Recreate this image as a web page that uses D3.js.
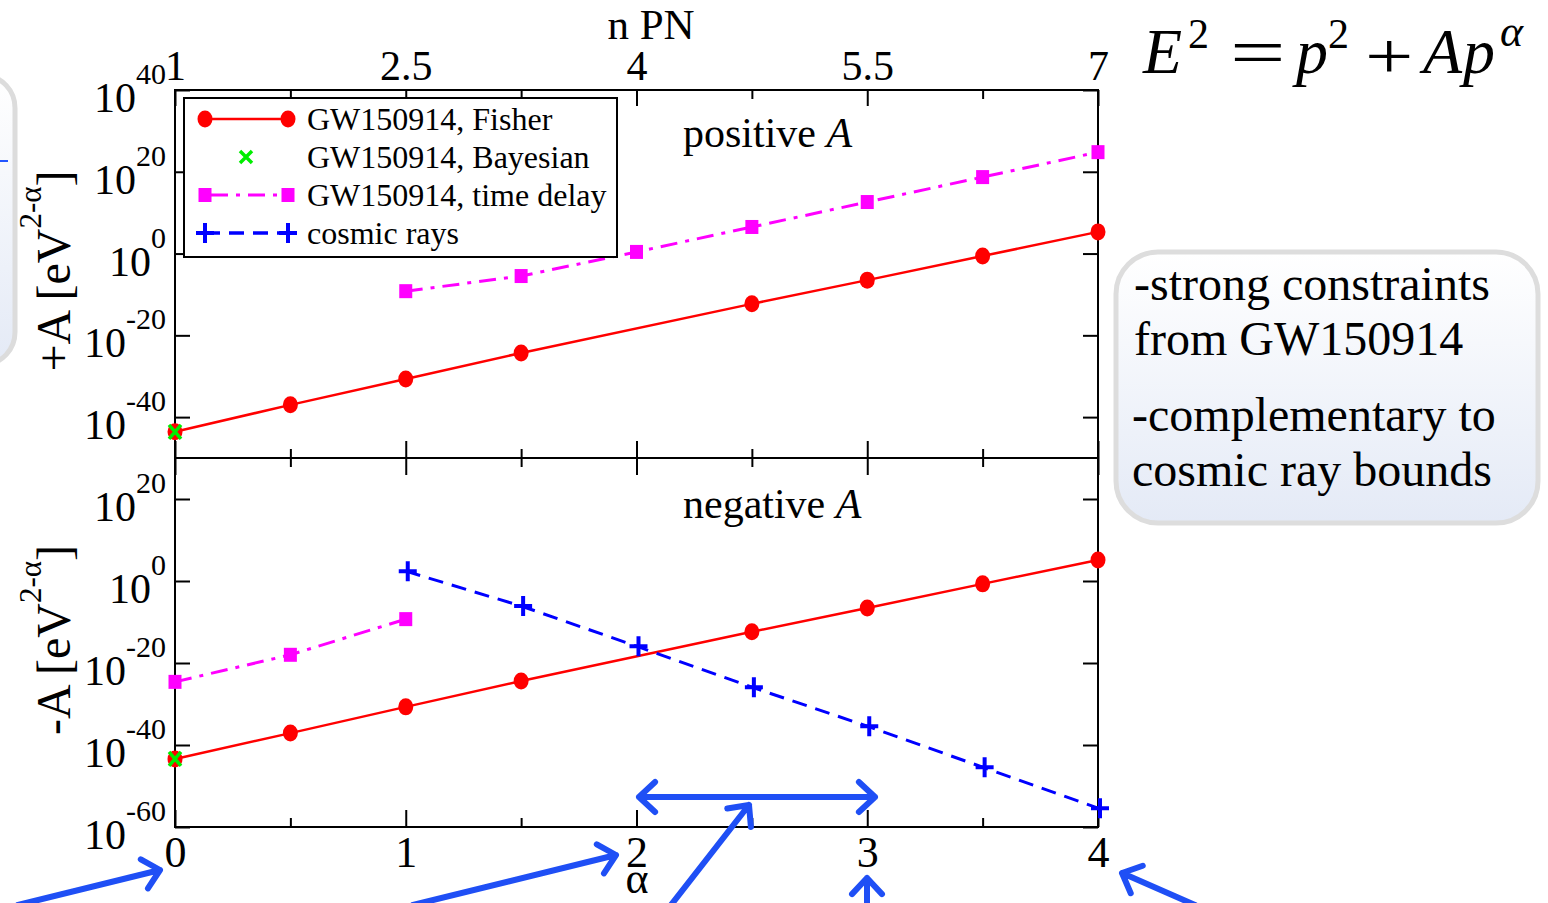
<!DOCTYPE html>
<html>
<head>
<meta charset="utf-8">
<script src="https://cdn.jsdelivr.net/npm/d3@7"></script>
<style>
  body { margin: 0; background: #fff; }
  text { font-family: "Liberation Serif", "DejaVu Serif", serif; fill: #000; }
</style>
</head>
<body>
<svg id="chart" width="1548" height="903"></svg>
<script>
// ---- data (log10 of |A| in eV^(2-alpha)) ----
const fisherAlpha = [0, 0.5, 1, 1.5, 2.5, 3, 3.5, 4];
const fisherPos = [-43.6, -37.0, -30.7, -24.3, -12.3, -6.5, -0.6, 5.3];
const fisherNeg = [-43.4, -37.1, -30.7, -24.4, -12.4, -6.6, -0.7, 5.1];
const bayesAlpha = [0];
const bayesPos = [-43.6];
const bayesNeg = [-43.4];
const delayPosAlpha = [1, 1.5, 2, 2.5, 3, 3.5, 4];
const delayPos = [-9.2, -5.5, 0.4, 6.5, 12.6, 18.7, 24.8];
const delayNegAlpha = [0, 0.5, 1];
const delayNeg = [-24.6, -18.0, -9.3];
const cosmicAlpha = [1, 1.5, 2, 2.5, 3, 3.5, 4];
const cosmicNeg = [2.4, -6.1, -15.9, -25.9, -35.4, -45.4, -55.4];

const alphaTicks = [0, 1, 2, 3, 4];
const alphaMinor = [0.5, 1.5, 2.5, 3.5];
const pnTicks = [1, 2.5, 4, 5.5, 7];
const pnMinor = [1.75, 3.25, 4.75, 6.25];
const yTicksPos = [-40, -20, 0, 20, 40];
const yTicksNeg = [-60, -40, -20, 0, 20];

const legendItems = ['GW150914, Fisher', 'GW150914, Bayesian', 'GW150914, time delay', 'cosmic rays'];
const noteLines = ['-strong constraints', 'from GW150914', '-complementary to', 'cosmic ray bounds'];

const RED = '#ff0000', MAG = '#ff00ff', GRN = '#00ee00', BLU = '#0000ff', ARROW = '#1f4ff5';

const svg = d3.select('#chart');

// scales
const plotL = 175, plotR = 1098, plotT = 90, plotM = 458, plotB = 827;
const x = d3.scaleLinear().domain([0, 4]).range([plotL, plotR]);
const xPN = d3.scaleLinear().domain([1, 7]).range([plotL, plotR]);
const yPos = d3.scaleLog().domain([1e-50, 1e40]).range([plotM, plotT]);
const yNeg = d3.scaleLog().domain([1e-60, 1e30]).range([plotB, plotM]);

// ---- slide decorations ----
const defs = svg.append('defs');
const grad = defs.append('linearGradient').attr('id', 'boxgrad')
  .attr('x1', 0).attr('y1', 0).attr('x2', 0).attr('y2', 1);
grad.append('stop').attr('offset', '0%').attr('stop-color', '#ffffff');
grad.append('stop').attr('offset', '100%').attr('stop-color', '#e4eaf6');

svg.append('rect').attr('x', -45).attr('y', 76).attr('width', 60).attr('height', 288)
  .attr('rx', 32).attr('fill', 'url(#boxgrad)').attr('stroke', '#dcdcdc').attr('stroke-width', 5);
svg.append('line').attr('x1', 0).attr('x2', 8).attr('y1', 161).attr('y2', 161)
  .attr('stroke', '#2255ff').attr('stroke-width', 2);

svg.append('rect').attr('x', 1116).attr('y', 252).attr('width', 422).attr('height', 271)
  .attr('rx', 42).attr('fill', 'url(#boxgrad)').attr('stroke', '#dddddd').attr('stroke-width', 5);
const noteY = [300, 355, 431, 486];
svg.selectAll('.note').data(noteLines).join('text')
  .attr('class', 'note')
  .attr('x', (d, i) => i < 2 ? 1134 : 1132)
  .attr('y', (d, i) => noteY[i])
  .attr('font-size', 48)
  .text(d => d);

// equation E^2 = p^2 + A p^alpha
const eq = svg.append('g');
function eqText(xp, yp, s, size, italic, sx) {
  eq.append('text').attr('transform', `translate(${xp},${yp}) scale(${sx || 1},1)`)
    .attr('font-size', size)
    .attr('font-style', italic ? 'italic' : 'normal').text(s);
}
eqText(1143, 73, 'E', 64, true);
eqText(1188, 48, '2', 42, false);
eqText(1230, 75, '=', 68, false, 1.45);
eqText(1296, 73, 'p', 64, true);
eqText(1328, 48, '2', 42, false);
eqText(1365, 78, '+', 66, false, 1.3);
eqText(1423, 73, 'A', 64, true);
eqText(1463, 73, 'p', 64, true);
eqText(1500, 46, 'α', 44, true);

// ---- axes ----
function styleAxis(g, size) {
  g.select('.domain').remove();
  g.selectAll('line').attr('stroke', '#000').attr('stroke-width', 2);
  g.attr('font-family', null).attr('font-size', size);
}

// top panel, top axis (n PN)
svg.append('g').attr('transform', `translate(0,${plotT})`)
  .call(d3.axisTop(xPN).tickValues(pnTicks).tickSize(-16).tickPadding(10).tickFormat(d => d))
  .call(g => styleAxis(g, 42));
svg.append('g').attr('transform', `translate(0,${plotT})`)
  .call(d3.axisTop(xPN).tickValues(pnMinor).tickSize(-9).tickFormat(''))
  .call(g => styleAxis(g, 10));
// middle line: both directions
svg.append('g').attr('transform', `translate(0,${plotM})`)
  .call(d3.axisBottom(x).tickValues(alphaTicks).tickSize(-17).tickFormat(''))
  .call(g => styleAxis(g, 10));
svg.append('g').attr('transform', `translate(0,${plotM})`)
  .call(d3.axisBottom(x).tickValues(alphaMinor).tickSize(-9).tickFormat(''))
  .call(g => styleAxis(g, 10));
svg.append('g').attr('transform', `translate(0,${plotM})`)
  .call(d3.axisTop(x).tickValues(alphaTicks).tickSize(-17).tickFormat(''))
  .call(g => styleAxis(g, 10));
svg.append('g').attr('transform', `translate(0,${plotM})`)
  .call(d3.axisTop(x).tickValues(alphaMinor).tickSize(-9).tickFormat(''))
  .call(g => styleAxis(g, 10));
// bottom axis (alpha)
svg.append('g').attr('transform', `translate(0,${plotB})`)
  .call(d3.axisBottom(x).tickValues(alphaTicks).tickSize(-17).tickPadding(9).tickFormat(d => d))
  .call(g => styleAxis(g, 44));
svg.append('g').attr('transform', `translate(0,${plotB})`)
  .call(d3.axisBottom(x).tickValues(alphaMinor).tickSize(-9).tickFormat(''))
  .call(g => styleAxis(g, 10));

// y axes
function yAxes(scale, ticks) {
  const vals = ticks.map(t => Math.pow(10, t));
  svg.append('g').attr('transform', `translate(${plotL},0)`)
    .call(d3.axisLeft(scale).tickValues(vals).tickSize(-15).tickFormat(''))
    .call(g => styleAxis(g, 10));
  svg.append('g').attr('transform', `translate(${plotR},0)`)
    .call(d3.axisRight(scale).tickValues(vals).tickSize(-15).tickFormat(''))
    .call(g => styleAxis(g, 10));
  const lab = svg.append('g').selectAll('text').data(ticks).join('text')
    .attr('x', 166)
    .attr('y', d => scale(Math.pow(10, d)) + 22)
    .attr('text-anchor', 'end')
    .attr('font-size', 42);
  lab.append('tspan').text('10');
  lab.append('tspan').attr('dy', -28).attr('font-size', 30).text(d => d);
}
yAxes(yPos, yTicksPos);
yAxes(yNeg, yTicksNeg);

// frame
svg.append('rect').attr('x', plotL).attr('y', plotT).attr('width', plotR - plotL).attr('height', plotB - plotT)
  .attr('fill', 'none').attr('stroke', '#000').attr('stroke-width', 2);
svg.append('line').attr('x1', plotL).attr('x2', plotR).attr('y1', plotM).attr('y2', plotM)
  .attr('stroke', '#000').attr('stroke-width', 2);

// axis titles
svg.append('text').attr('x', 651).attr('y', 39).attr('text-anchor', 'middle').attr('font-size', 43).text('n PN');
svg.append('text').attr('x', 637).attr('y', 893).attr('text-anchor', 'middle').attr('font-size', 44).text('α');
function yTitle(cy, sign) {
  const t = svg.append('text').attr('transform', `translate(70,${cy}) rotate(-90)`)
    .attr('text-anchor', 'middle').attr('font-size', 48);
  t.append('tspan').text(sign + 'A [eV');
  t.append('tspan').attr('dy', -29).attr('font-size', 31).text('2-α');
  t.append('tspan').attr('dy', 29).text(']');
}
yTitle(271, '+');
yTitle(640, '-');

// panel labels
function panelLabel(xp, yp, word) {
  const t = svg.append('text').attr('x', xp).attr('y', yp).attr('font-size', 42);
  t.append('tspan').text(word + ' ');
  t.append('tspan').attr('font-style', 'italic').text('A');
}
panelLabel(683, 147, 'positive');
panelLabel(683, 518, 'negative');

// ---- series ----
function series(alphas, vals, yScale) {
  return alphas.map((a, i) => ({ a: a, v: Math.pow(10, vals[i]), y: yScale }));
}
const line = d3.line().x(d => x(d.a)).y(d => d.y(d.v));

function drawLine(data, color, dash, width) {
  svg.append('path').datum(data).attr('d', line).attr('fill', 'none')
    .attr('stroke', color).attr('stroke-width', width).attr('stroke-dasharray', dash);
}
function circles(data) {
  svg.append('g').selectAll('ellipse').data(data).join('ellipse')
    .attr('cx', d => x(d.a)).attr('cy', d => d.y(d.v)).attr('rx', 7.5).attr('ry', 8.5).attr('fill', RED);
}
function squares(data) {
  svg.append('g').selectAll('rect').data(data).join('rect')
    .attr('x', d => x(d.a) - 6.5).attr('y', d => d.y(d.v) - 7).attr('width', 13).attr('height', 14).attr('fill', MAG);
}
function pluses(data) {
  svg.append('g').selectAll('path').data(data).join('path')
    .attr('d', d => { const cx = x(d.a) + 2, cy = d.y(d.v); return `M${cx - 9},${cy}H${cx + 9}M${cx},${cy - 10}V${cy + 10}`; })
    .attr('stroke', BLU).attr('stroke-width', 4).attr('fill', 'none');
}
function crosses(data) {
  svg.append('g').selectAll('path').data(data).join('path')
    .attr('d', d => { const cx = x(d.a), cy = d.y(d.v); return `M${cx - 6},${cy - 7}L${cx + 6},${cy + 7}M${cx - 6},${cy + 7}L${cx + 6},${cy - 7}`; })
    .attr('stroke', GRN).attr('stroke-width', 3.5).attr('fill', 'none');
}

const fP = series(fisherAlpha, fisherPos, yPos);
const fN = series(fisherAlpha, fisherNeg, yNeg);
const dP = series(delayPosAlpha, delayPos, yPos);
const dN = series(delayNegAlpha, delayNeg, yNeg);
const cN = series(cosmicAlpha, cosmicNeg, yNeg);

drawLine(dP, MAG, '17,8,4,8', 3);
drawLine(dN, MAG, '17,8,4,8', 3);
drawLine(fP, RED, null, 2.5);
drawLine(fN, RED, null, 2.5);
drawLine(cN, BLU, '15,9', 3);
squares(dP); squares(dN);
circles(fP); circles(fN);
pluses(cN);
crosses(series(bayesAlpha, bayesPos, yPos));
crosses(series(bayesAlpha, bayesNeg, yNeg));

// ---- legend ----
const lg = svg.append('g');
lg.append('rect').attr('x', 184).attr('y', 98).attr('width', 433).attr('height', 159)
  .attr('fill', '#fff').attr('stroke', '#000').attr('stroke-width', 2);
const rowY = [119, 157, 195, 233];
const lx1 = 205, lx2 = 288, lxm = 246;
lg.append('line').attr('x1', lx1).attr('x2', lx2).attr('y1', rowY[0]).attr('y2', rowY[0]).attr('stroke', RED).attr('stroke-width', 2.5);
[lx1, lx2].forEach(px => lg.append('ellipse').attr('cx', px).attr('cy', rowY[0]).attr('rx', 7.5).attr('ry', 8.5).attr('fill', RED));
lg.append('path').attr('d', `M${lxm - 6},${rowY[1] - 6}L${lxm + 6},${rowY[1] + 6}M${lxm - 6},${rowY[1] + 6}L${lxm + 6},${rowY[1] - 6}`)
  .attr('stroke', GRN).attr('stroke-width', 3.5);
lg.append('line').attr('x1', lx1).attr('x2', lx2).attr('y1', rowY[2]).attr('y2', rowY[2]).attr('stroke', MAG).attr('stroke-width', 3).attr('stroke-dasharray', '17,8,4,8').attr('stroke-dashoffset', -6);
[lx1, lx2].forEach(px => lg.append('rect').attr('x', px - 6.5).attr('y', rowY[2] - 7).attr('width', 13).attr('height', 14).attr('fill', MAG));
lg.append('line').attr('x1', lx1).attr('x2', lx2).attr('y1', rowY[3]).attr('y2', rowY[3]).attr('stroke', BLU).attr('stroke-width', 3.5).attr('stroke-dasharray', '15,9');
[lx1, lx2].forEach(px => lg.append('path').attr('d', `M${px - 9},${rowY[3]}H${px + 9}M${px},${rowY[3] - 10}V${rowY[3] + 10}`).attr('stroke', BLU).attr('stroke-width', 4));
lg.selectAll('.lt').data(legendItems).join('text').attr('class', 'lt')
  .attr('x', 307).attr('y', (d, i) => rowY[i] + 11).attr('font-size', 32).text(d => d);

// ---- blue annotation arrows ----
const arrows = [
  { x1: 18, y1: 905, x2: 160, y2: 870, both: false },
  { x1: 413, y1: 905, x2: 616, y2: 855, both: false },
  { x1: 671, y1: 905, x2: 749, y2: 805, both: false },
  { x1: 639, y1: 797, x2: 875, y2: 797, both: true },
  { x1: 867, y1: 905, x2: 867, y2: 878, both: false },
  { x1: 1195, y1: 905, x2: 1122, y2: 873, both: false }
];
function head(xa, ya, xb, yb) {
  const ang = Math.atan2(yb - ya, xb - xa), L = 22, phi = 0.75;
  const p1 = [xb - L * Math.cos(ang - phi), yb - L * Math.sin(ang - phi)];
  const p2 = [xb - L * Math.cos(ang + phi), yb - L * Math.sin(ang + phi)];
  return `M${p1[0]},${p1[1]}L${xb},${yb}L${p2[0]},${p2[1]}`;
}
svg.append('g').selectAll('path').data(arrows).join('path')
  .attr('d', d => `M${d.x1},${d.y1}L${d.x2},${d.y2}` + head(d.x1, d.y1, d.x2, d.y2) + (d.both ? head(d.x2, d.y2, d.x1, d.y1) : ''))
  .attr('fill', 'none').attr('stroke', ARROW).attr('stroke-width', 6)
  .attr('stroke-linecap', 'round').attr('stroke-linejoin', 'round');
</script>
</body>
</html>
